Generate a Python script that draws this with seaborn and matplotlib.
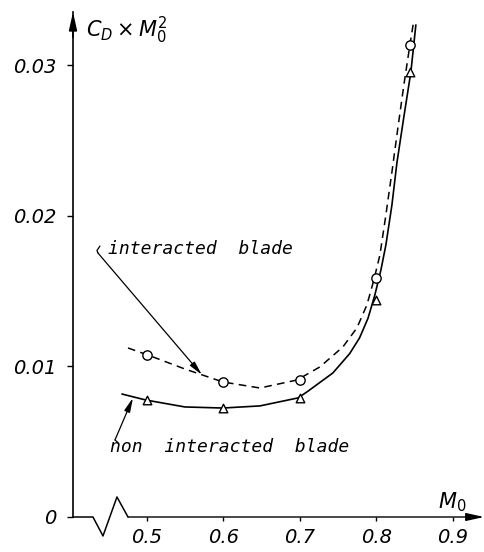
import matplotlib
matplotlib.use("Agg")
import matplotlib.pyplot as plt
import seaborn as sns

# ---- data ----
mach = [0.5, 0.6, 0.7, 0.8, 0.844]
cd_interacted = [0.01076, 0.00897, 0.00910, 0.01588, 0.03136]
cd_non_interacted = [0.00777, 0.00724, 0.00791, 0.01442, 0.02957]

# fitted curves
curve_int_x = [0.4752, 0.5013, 0.5497, 0.5993, 0.6477, 0.6961, 0.7261, 0.7562, 0.7745,
               0.7876, 0.7967, 0.8046, 0.8124, 0.8203, 0.8281, 0.8359, 0.8438, 0.8490]
curve_int_y = [0.01123, 0.01076, 0.00983, 0.00897, 0.00857, 0.00910, 0.00997, 0.01130, 0.01256,
               0.01409, 0.01575, 0.01741, 0.02007, 0.02292, 0.02585, 0.02870, 0.03136, 0.03302]
curve_non_x = [0.4673, 0.4987, 0.5497, 0.5993, 0.6477, 0.6974, 0.7092, 0.7431, 0.7650, 0.7780,
               0.7890, 0.7980, 0.8059, 0.8124, 0.8203, 0.8268, 0.8359, 0.8451, 0.8516]
curve_non_y = [0.00817, 0.00777, 0.00731, 0.00724, 0.00738, 0.00791, 0.00831, 0.00957, 0.01085,
               0.01190, 0.01320, 0.01475, 0.01641, 0.01807, 0.02073, 0.02352, 0.02658, 0.02957,
               0.03269]

xticks = [0.5, 0.6, 0.7, 0.8, 0.9]
xticklabels = ["0.5", "0.6", "0.7", "0.8", "0.9"]
yticks = [0.0, 0.01, 0.02, 0.03]
yticklabels = ["0", "0.01", "0.02", "0.03"]

sns.set_theme(style="white")
plt.rcParams["font.family"] = ["DejaVu Sans"]
plt.rcParams["mathtext.fontset"] = "dejavusans"
plt.rcParams["text.color"] = "black"
plt.rcParams["xtick.color"] = "black"
plt.rcParams["ytick.color"] = "black"

MONO = ["DejaVu Sans Mono"]

W, H = 485, 552
fig = plt.figure(figsize=(W / 100, H / 100), dpi=100)
ax = fig.add_axes([73 / W, 35 / H, 412 / W, 505 / H])

XMIN, XMAX = 0.4033, 0.942
YMIN, YMAX = 0.0, 0.03355
ax.set_xlim(XMIN, XMAX)
ax.set_ylim(YMIN, YMAX)

# curves
sns.lineplot(x=curve_int_x, y=curve_int_y, ax=ax, sort=False, estimator=None,
             color="black", lw=1.1, linestyle=(0, (5, 3.5)))
sns.lineplot(x=curve_non_x, y=curve_non_y, ax=ax, sort=False, estimator=None,
             color="black", lw=1.2)
# markers
sns.scatterplot(x=mach, y=cd_interacted, ax=ax, marker="o", s=45,
                facecolor="white", edgecolor="black", linewidth=1.0, zorder=5)
sns.scatterplot(x=mach, y=cd_non_interacted, ax=ax, marker="^", s=38,
                facecolor="white", edgecolor="black", linewidth=1.0, zorder=5)

# spines / axes
for s in ["top", "right", "bottom"]:
    ax.spines[s].set_visible(False)
ax.spines["left"].set_color("black")
ax.spines["left"].set_linewidth(1.2)

ax.set_xticks(xticks)
ax.set_xticklabels(xticklabels, style="italic", fontsize=14, color="black")
ax.set_yticks(yticks)
ax.set_yticklabels(yticklabels, style="italic", fontsize=14, color="black")
ax.tick_params(axis="y", direction="out", length=4, width=1, color="black", pad=8)
ax.tick_params(axis="x", direction="out", length=3, width=1, color="black", pad=5)
ax.yaxis.get_major_ticks()[0].tick1line.set_visible(False)
ax.xaxis.set_ticks_position("bottom")
ax.yaxis.set_ticks_position("left")
ax.set_xlabel("")
ax.set_ylabel("")
ax.grid(False)

# broken x-axis (zig-zag) + axis line with arrow
zx = [XMIN, 0.4294, 0.4425, 0.4608, 0.4752]
zy = [0.0, 0.0, -0.00126, 0.00133, 0.0]
ax.plot(zx, zy, color="black", lw=1.1, clip_on=False)
ax.annotate("", xy=(0.9976, 0), xytext=(0.4752, 0), xycoords=("axes fraction", "data"),
            textcoords="data",
            arrowprops=dict(arrowstyle="-|>,head_length=0.9,head_width=0.2",
                            color="black", lw=1.0, shrinkA=0, shrinkB=0), annotation_clip=False)
ax.annotate("", xy=(0, 1.0), xytext=(0, 0.95), xycoords="axes fraction",
            arrowprops=dict(arrowstyle="-|>,head_length=0.9,head_width=0.2",
                            color="black", lw=1.2, shrinkA=0, shrinkB=0), annotation_clip=False)

# axis titles
fig.text(86 / W, 1 - 30 / H, r"$C_D \times M_0^2$", fontsize=15, ha="left", va="center",
         color="black")
fig.text(452 / W, 1 - 502 / H, r"$M_0$", fontsize=15, ha="center", va="center", color="black")

# annotations
ax.text(0.4490, 0.01781, "interacted  blade", fontsize=13, style="italic", family=MONO,
        ha="left", va="center", color="black")
ax.annotate("", xy=(0.5719, 0.00944), xytext=(0.4359, 0.01754),
            arrowprops=dict(arrowstyle="-|>,head_length=0.7,head_width=0.15",
                            color="black", lw=0.9, shrinkA=0, shrinkB=0))
ax.plot([0.4385, 0.4346, 0.4359], [0.01800, 0.01770, 0.01754], color="black", lw=0.9)

ax.annotate("", xy=(0.4817, 0.00791), xytext=(0.4582, 0.00512),
            arrowprops=dict(arrowstyle="-|>,head_length=0.7,head_width=0.15",
                            color="black", lw=0.9, shrinkA=0, shrinkB=0))
ax.plot([0.4582, 0.4620], [0.00512, 0.00495], color="black", lw=0.9)
ax.text(0.4516, 0.00465, "non  interacted  blade", fontsize=13, style="italic", family=MONO,
        ha="left", va="center", color="black")

fig.savefig("out.png", dpi=100)
